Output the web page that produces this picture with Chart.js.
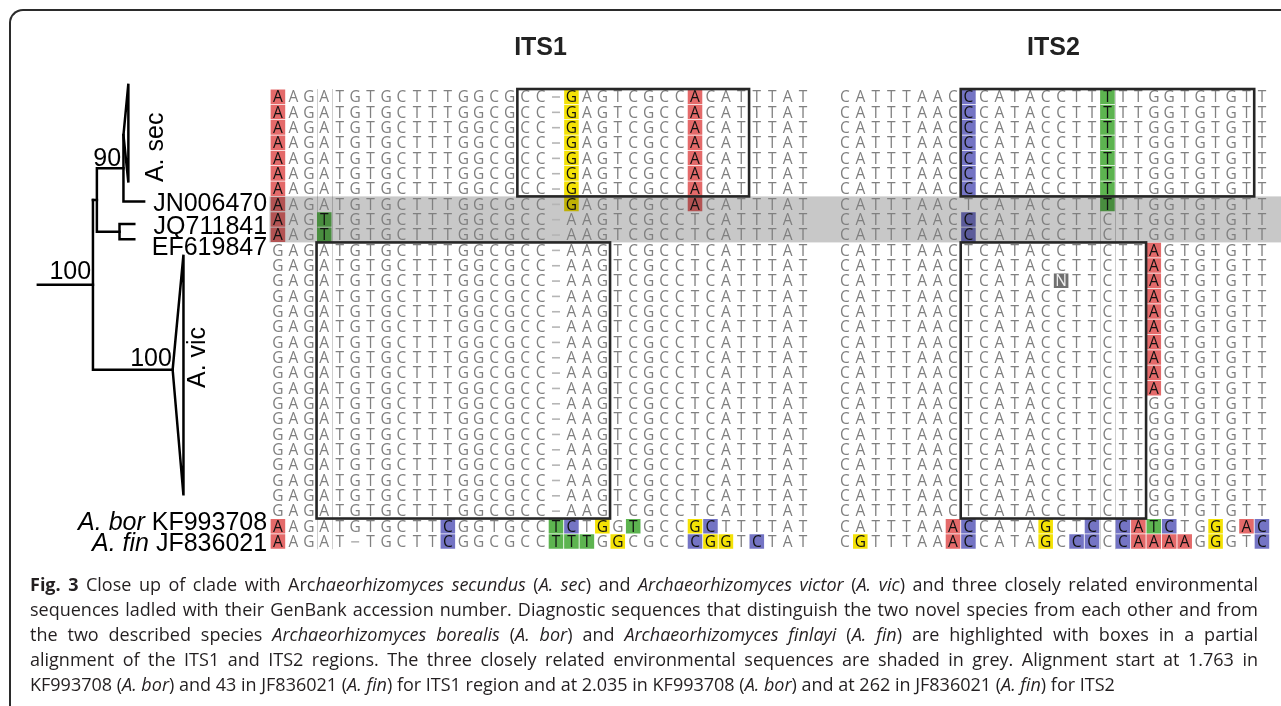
<!DOCTYPE html>
<html><head><meta charset="utf-8"><title>Fig. 3</title>
<script src="https://cdn.jsdelivr.net/npm/chart.js@4.4.1/dist/chart.umd.min.js"></script>
<style>
html,body{margin:0;padding:0;background:#fff;}
body{width:1281px;height:706px;overflow:hidden;position:relative;}
#frame{position:absolute;left:9px;top:9px;width:1300px;height:760px;border-left:2px solid #2b2b2b;border-top:2px solid #2b2b2b;border-top-left-radius:14px;box-sizing:border-box;}
#c{position:absolute;left:0;top:0;}
#cap{position:absolute;left:30px;top:572px;width:1228px;font-family:"Open Sans",sans-serif;font-size:18px;line-height:25px;color:#231f20;}
#cap div{text-align:justify;text-align-last:justify;}
#cap div.last{text-align-last:left;}
</style></head>
<body>
<div id="frame"></div>
<canvas id="c" width="1281" height="706"></canvas>
<div id="cap">
<div><b>Fig. 3</b> Close up of clade with Arc<i>haeorhizomyces secundus</i> (<i>A. sec</i>) and <i>Archaeorhizomyces victor</i> (<i>A. vic</i>) and three closely related environmental</div>
<div>sequences ladled with their GenBank accession number. Diagnostic sequences that distinguish the two novel species from each other and from</div>
<div>the two described species <i>Archaeorhizomyces borealis</i> (<i>A. bor</i>) and <i>Archaeorhizomyces finlayi</i> (<i>A. fin</i>) are highlighted with boxes in a partial</div>
<div>alignment of the ITS1 and ITS2 regions. The three closely related environmental sequences are shaded in grey. Alignment start at 1.763 in</div>
<div class="last">KF993708 (<i>A. bor</i>) and 43 in JF836021 (<i>A. fin</i>) for ITS1 region and at 2.035 in KF993708 (<i>A. bor</i>) and at 262 in JF836021 (<i>A. fin</i>) for ITS2</div>
</div>
<script>
// ---------------- DATA ----------------
const regions = ['ITS1', 'ITS2'];
const rowGroups = ['sec','sec','sec','sec','sec','sec','sec','env','env','env',
  'vic','vic','vic','vic','vic','vic','vic','vic','vic','vic','vic','vic','vic','vic','vic','vic','vic','vic','bor','fin'];

const SEC1 = 'AAGATGTGCTTTGGCGCC-GAGTCGCCACATTTAT';
const ENV1 = 'AAGTTGTGCTTTGGCGCC-AAGTCGCCTCATTTAT';
const VIC1 = 'GAGATGTGCTTTGGCGCC-AAGTCGCCTCATTTAT';
const its1 = [SEC1,SEC1,SEC1,SEC1,SEC1,SEC1,SEC1, SEC1, ENV1, ENV1,
  VIC1,VIC1,VIC1,VIC1,VIC1,VIC1,VIC1,VIC1,VIC1,VIC1,VIC1,VIC1,VIC1,VIC1,VIC1,VIC1,VIC1,VIC1,
  'AAGATGTGCTTCGGTGCCTCTGGTGCCGCTTTTAT',
  'AAGAT-TGCTTCGGCGCCTTTGGCGCCCGGTCTAT'];
const its1Hi = [[1,20,28],[1,20,28],[1,20,28],[1,20,28],[1,20,28],[1,20,28],[1,20,28],[1,20,28],[1,4],[1,4],
  [],[],[],[],[],[],[],[],[],[],[],[],[],[],[],[],[],[],
  [1,12,19,20,22,24,28,29],
  [1,12,19,20,21,23,28,29,30,32]];

const SEC2 = 'CATTTAACCCATACCTTTTTGGTGTGTT';
const JN2  = 'CATTTAACTCATACCTTTTTGGTGTGTT';
const ENV2 = 'CATTTAACCCATACCTTCTTGGTGTGTT';
const VICA = 'CATTTAACTCATACCTTCTTAGTGTGTT';
const VICN = 'CATTTAACTCATACNTTCTTAGTGTGTT';
const VICG = 'CATTTAACTCATACCTTCTTGGTGTGTT';
const its2 = [SEC2,SEC2,SEC2,SEC2,SEC2,SEC2,SEC2, JN2, ENV2, ENV2,
  VICA,VICA,VICN,VICA,VICA,VICA,VICA,VICA,VICA,VICA, VICG,VICG,VICG,VICG,VICG,VICG,VICG,VICG,
  'CATTTAAACCATAGCTCCCATCTGGGAC',
  'CGTTTAAACCATAGCCCCCAAAAGGGTC'];
const its2Hi = [[9,18],[9,18],[9,18],[9,18],[9,18],[9,18],[9,18],[18],[9],[9],
  [21],[21],[15,21],[21],[21],[21],[21],[21],[21],[21],[],[],[],[],[],[],[],[],
  [8,9,14,17,19,20,21,22,25,27,28],
  [2,8,9,14,16,17,19,20,21,22,23,25,28]];

// diagnostic boxes: [region, firstCol, lastCol, firstRow, lastRow]
const diagBoxes = [[1,17,31,1,7],[1,4,22,11,28],[2,9,27,1,7],[2,9,20,11,28]];
// variable columns marked with thin guides: [region, col]
const guideCols = [[1,4],[2,18]];
const shadedRows = [8,10];

// tree (depth in branch-length units, vertical in alignment-row units)
const treeDepth = {root:0, a:0.56, p:0.60, n90:0.87, secTip:0.92, jnTip:1.08, sub:0.83, envTip:0.98, vic:1.37, vicTip:1.48};
const treeY = {secTop:0.15, secApex:3.5, secBot:6.6, jn:7.84, jq:9.3, ef:10.3, vicTop:11.3, vic:18.8, vicBot:27.0};
const leafLabels = [
  {it:'', tx:'JN006470', y:7.84},
  {it:'', tx:'JQ711841', y:9.35},
  {it:'', tx:'EF619847', y:10.75},
  {it:'A. bor', tx:'KF993708', y:28.65},
  {it:'A. fin', tx:'JF836021', y:30}];
const cladeLabels = [{tx:'A. sec', d:1.20, y:4.3},{tx:'A. vic', d:1.63, y:18.0}];
const supportVals = ['90','100','100'];

// ---------------- LAYOUT ----------------
const W = 1281, H = 706;
const COL_PITCH = 15.7, COL1_PX = 272, ITS2_SHIFT = 36.7;
const ROW_PITCH = 15.8, ROW1_PX = 89;
const TREE_PX0 = 28, TREE_PX_PER_UNIT = 100;
const xMin = 1 - COL1_PX / COL_PITCH, xMax = xMin + W / COL_PITCH;
const yMin = 1 - ROW1_PX / ROW_PITCH, yMax = yMin + H / ROW_PITCH;
const xtMin = -TREE_PX0 / TREE_PX_PER_UNIT, xtMax = xtMin + W / TREE_PX_PER_UNIT;
const colX = (region, col) => region === 1 ? col : ITS2_SHIFT + col;

const baseColor = {A:'#e46a6a', C:'#7474c4', G:'#f4e205', T:'#5db450', N:'#707070'};

// build cells
const letterCells = [], hiCells = [];
[its1, its2].forEach((seqs, ri) => {
  const hi = ri === 0 ? its1Hi : its2Hi;
  seqs.forEach((s, r) => {
    for (let c = 0; c < s.length; c++) {
      const h = hi[r].includes(c + 1);
      letterCells.push({x: colX(ri + 1, c + 1), y: r + 1, b: s[c], h});
      if (h) hiCells.push({x: colX(ri + 1, c + 1), y: r + 1, b: s[c]});
    }
  });
});

const D = treeDepth, Y = treeY;
const aY = (Y.secApex + Y.jn) / 2, subY = (Y.jq + Y.ef) / 2;
const stubY = (aY + subY) / 2, rootY = (stubY + Y.vic) / 2;
const treePaths = [
  [[D.root, rootY],[D.a, rootY]],
  [[D.a, stubY],[D.a, Y.vic],[D.vic, Y.vic]],
  [[D.a, stubY],[D.p, stubY]],
  [[D.n90, aY],[D.p, aY],[D.p, subY],[D.sub, subY]],
  [[D.n90, Y.secApex],[D.n90, Y.jn],[D.jnTip, Y.jn]],
  [[D.envTip, Y.jq],[D.sub, Y.jq],[D.sub, Y.ef],[D.envTip, Y.ef]],
  [[D.n90, Y.secApex],[D.secTip, Y.secTop],[D.secTip, Y.secBot],[D.n90, Y.secApex]],
  [[D.vic, Y.vic],[D.vicTip, Y.vicTop],[D.vicTip, Y.vicBot],[D.vic, Y.vic]]
];
const supportPos = [{d:0.705, y:aY - 0.75},{d:0.33, y:rootY - 1.0},{d:1.15, y:Y.vic - 0.85}];

const datasets = [
  {label:'bases', data: letterCells, pointRadius:0, xAxisID:'x', yAxisID:'y'},
  {label:'highlights', data: hiCells, pointStyle:'rect', pointRadius:10.3, borderWidth:0,
   backgroundColor: c => c.raw ? baseColor[c.raw.b] : '#000', xAxisID:'x', yAxisID:'y'}
];
treePaths.forEach((p, i) => datasets.push({
  label:'tree' + i, data: p.map(q => ({x:q[0], y:q[1]})), showLine:true, pointRadius:0,
  borderColor:'#000', borderWidth:2.5, borderJoinStyle:'miter', borderCapStyle:'square',
  xAxisID:'xt', yAxisID:'y', tension:0
}));

const alignPlugin = {
  id:'align',
  beforeDatasetsDraw(chart) {
    const {ctx, scales:{x, y}} = chart;
    ctx.save();
    ctx.strokeStyle = '#cfcfcf'; ctx.lineWidth = 1;
    guideCols.forEach(([rg, c]) => {
      [c - 0.5, c + 0.5].forEach(v => {
        const px = Math.round(x.getPixelForValue(colX(rg, v))) + 0.5;
        ctx.beginPath(); ctx.moveTo(px, y.getPixelForValue(0.5)); ctx.lineTo(px, y.getPixelForValue(its1.length + 0.5)); ctx.stroke();
      });
    });
    ctx.restore();
  },
  afterDatasetsDraw(chart) {
    const {ctx, scales:{x, y, xt}} = chart;
    ctx.save();
    // grey shading of environmental sequences
    ctx.globalCompositeOperation = 'multiply';
    ctx.fillStyle = '#c8c8c8';
    const gy0 = y.getPixelForValue(shadedRows[0] - 0.5), gy1 = y.getPixelForValue(shadedRows[1] + 0.5);
    const gx0 = x.getPixelForValue(0.45);
    ctx.fillRect(gx0, gy0, W - gx0, gy1 - gy0);
    ctx.globalCompositeOperation = 'source-over';
    // letters
    const meta = chart.getDatasetMeta(0);
    ctx.textAlign = 'center'; ctx.textBaseline = 'alphabetic';
    ctx.font = '15.5px "Open Sans"';
    meta.data.forEach((el, i) => {
      const cell = letterCells[i];
      if (cell.b === '-') {
        ctx.fillStyle = '#b5b5b5';
        ctx.fillRect(el.x - 4, el.y - 0.5, 8, 1.6);
        return;
      }
      ctx.fillStyle = cell.h ? (cell.b === 'N' ? '#f0f0f0' : '#111') : '#808080';
      ctx.fillText(cell.b, el.x, el.y + 5.5);
    });
    // diagnostic boxes
    ctx.strokeStyle = '#262626'; ctx.lineWidth = 2.6;
    diagBoxes.forEach(([rg, c0, c1, r0, r1]) => {
      const x0 = x.getPixelForValue(colX(rg, c0 - 0.5)), x1 = x.getPixelForValue(colX(rg, c1 + 0.5));
      const y0 = y.getPixelForValue(r0 - 0.5), y1 = y.getPixelForValue(r1 + 0.5);
      ctx.strokeRect(x0, y0, x1 - x0, y1 - y0);
    });
    // region titles
    ctx.fillStyle = '#222'; ctx.font = 'bold 25px "Liberation Sans"';
    [its1, its2].forEach((s, ri) => {
      const cx = (x.getPixelForValue(colX(ri + 1, 1)) + x.getPixelForValue(colX(ri + 1, s[0].length))) / 2;
      ctx.fillText(regions[ri], cx, y.getPixelForValue(-1.75));
    });
    // tree labels
    ctx.fillStyle = '#000';
    ctx.textAlign = 'right';
    const lx = xt.getPixelForValue(2.33);
    leafLabels.forEach(l => {
      const py = y.getPixelForValue(l.y) + 9;
      ctx.font = '25px "Liberation Sans"';
      const w = ctx.measureText(l.tx).width;
      ctx.fillText(l.tx, lx, py);
      if (l.it) {
        ctx.font = 'italic 25px "Liberation Sans"';
        ctx.fillText(l.it + ' ', lx - w, py);
      }
    });
    ctx.font = '25px "Liberation Sans"'; ctx.textAlign = 'center';
    supportVals.forEach((v, i) => {
      ctx.fillText(v, xt.getPixelForValue(supportPos[i].d), y.getPixelForValue(supportPos[i].y) + 9);
    });
    cladeLabels.forEach(c => {
      ctx.save();
      ctx.translate(xt.getPixelForValue(c.d), y.getPixelForValue(c.y));
      ctx.rotate(-Math.PI / 2);
      ctx.textBaseline = 'middle';
      ctx.fillText(c.tx, 0, 0);
      ctx.restore();
    });
    ctx.restore();
  }
};

new Chart(document.getElementById('c'), {
  type:'scatter',
  data:{datasets},
  options:{
    responsive:false, animation:false, events:[],
    layout:{padding:0},
    plugins:{legend:{display:false}, tooltip:{enabled:false}, title:{display:false}},
    scales:{
      x:{type:'linear', display:false, min:xMin, max:xMax},
      xt:{type:'linear', axis:'x', display:false, min:xtMin, max:xtMax},
      y:{type:'linear', display:false, reverse:true, min:yMin, max:yMax}
    }
  },
  plugins:[alignPlugin]
});
</script>
</body></html>
